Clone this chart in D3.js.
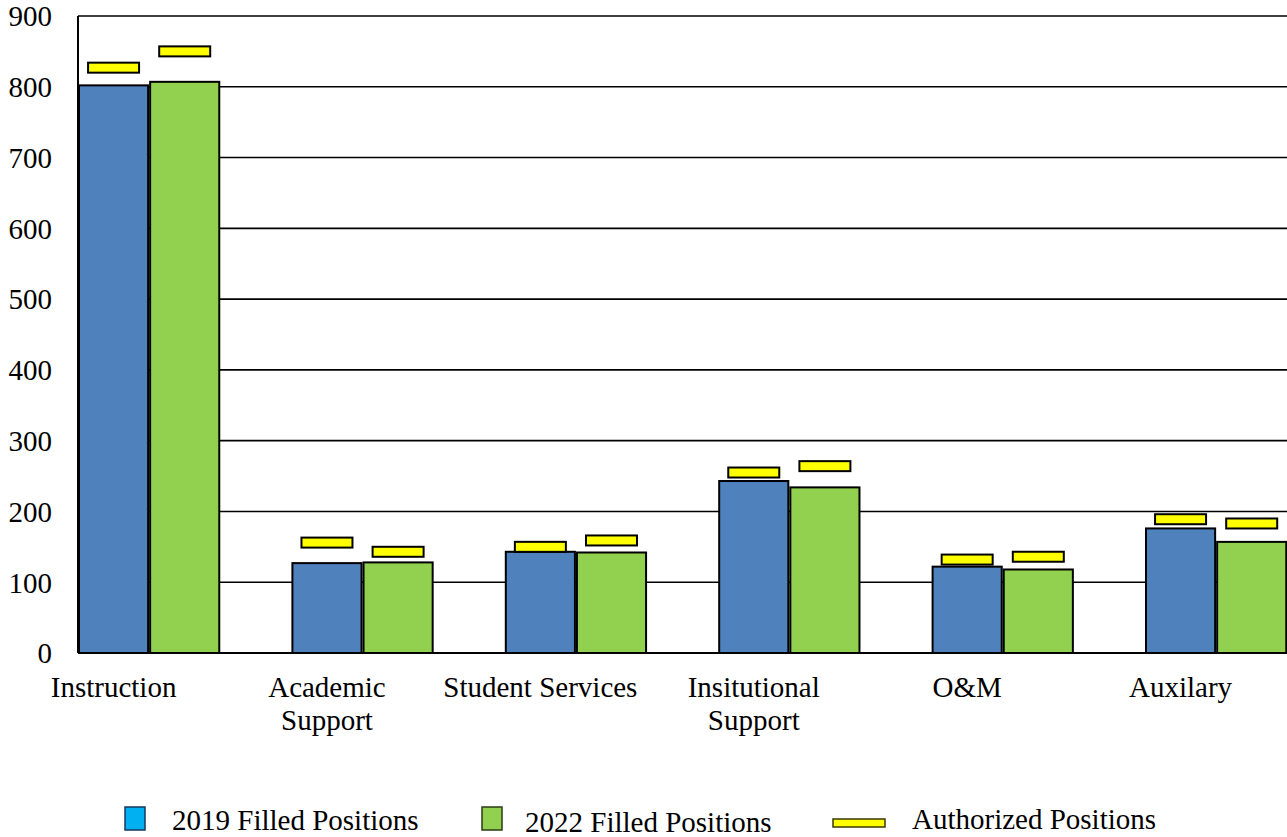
<!DOCTYPE html>
<html>
<head>
<meta charset="utf-8">
<script src="https://cdn.jsdelivr.net/npm/d3@7"></script>
<style>
  html, body { margin: 0; padding: 0; background: #fff; }
  svg { display: block; font-family: "Liberation Serif", "Times New Roman", serif; }
  svg text { font-family: "Liberation Serif", "Times New Roman", serif; }
</style>
</head>
<body>
<svg id="chart" width="1287" height="837"></svg>
<script>
// Staff positions by function
const categories = [
  ["Instruction"],
  ["Academic", "Support"],
  ["Student Services"],
  ["Insitutional", "Support"],
  ["O&M"],
  ["Auxilary"]
];
const filled2019 = [802, 127, 143, 243, 122, 176];
const filled2022 = [807, 128, 142, 234, 118, 157];
const authorized2019 = [827, 156, 150, 255, 132, 189];
const authorized2022 = [850, 143, 159, 264, 136, 183];
const yTicks = [0, 100, 200, 300, 400, 500, 600, 700, 800, 900];

const svg = d3.select("#chart");
const plotLeft = 78, plotTop = 16, plotBottom = 653, groupWidth = 213.4;

const catKeys = categories.map(c => c.join(" "));
const x0 = d3.scaleBand().domain(catKeys)
  .range([plotLeft, plotLeft + groupWidth * catKeys.length]).padding(0);
const slot = x0.bandwidth() / 3;
const x1 = d3.scaleBand().domain(["2019", "2022"]).range([0, slot * 2]).padding(0);
const y = d3.scaleLinear().domain([0, 900]).range([plotBottom, plotTop]);

// Gridlines (incl. top border)
svg.append("g").selectAll("line").data(yTicks.filter(t => t > 0)).join("line")
  .attr("x1", plotLeft).attr("x2", 1287)
  .attr("y1", d => y(d)).attr("y2", d => y(d))
  .attr("stroke", "#000").attr("stroke-width", 1.6);

// Y axis labels
const yAxis = d3.axisLeft(y).tickValues(yTicks).tickSize(0).tickPadding(26);
const yg = svg.append("g").attr("transform", `translate(${plotLeft},0)`).call(yAxis)
  .attr("font-family", null).attr("font-size", null);
yg.select(".domain").remove();
yg.selectAll("text").attr("font-size", 29).attr("fill", "#000")
  .style("font-family", "'Liberation Serif', serif").attr("dy", "0.34em");

// Bars
const rows = catKeys.map((k, i) => ({
  key: k,
  vals: [
    { s: "2019", v: filled2019[i], a: authorized2019[i], fill: "#4F81BD" },
    { s: "2022", v: filled2022[i], a: authorized2022[i], fill: "#92D050" }
  ]
}));

const groups = svg.append("g").selectAll("g").data(rows).join("g")
  .attr("transform", d => `translate(${x0(d.key)},0)`);

groups.selectAll("rect.bar").data(d => d.vals).join("rect")
  .attr("class", "bar")
  .attr("x", d => x1(d.s) + 1)
  .attr("width", x1.bandwidth() - 2)
  .attr("y", d => y(d.v))
  .attr("height", d => plotBottom - y(d.v))
  .attr("fill", d => d.fill)
  .attr("stroke", "#000").attr("stroke-width", 2);

// Authorized markers
const mW = 51, mH = 10;
groups.selectAll("rect.auth").data(d => d.vals).join("rect")
  .attr("class", "auth")
  .attr("x", d => x1(d.s) + x1.bandwidth() / 2 - mW / 2)
  .attr("y", d => y(d.a) - mH / 2)
  .attr("width", mW).attr("height", mH)
  .attr("fill", "#FFFF00")
  .attr("stroke", "#000").attr("stroke-width", 2);

// Axis lines
svg.append("line").attr("x1", plotLeft).attr("x2", plotLeft).attr("y1", plotTop).attr("y2", plotBottom)
  .attr("stroke", "#000").attr("stroke-width", 2);
svg.append("line").attr("x1", plotLeft).attr("x2", 1287).attr("y1", plotBottom).attr("y2", plotBottom)
  .attr("stroke", "#000").attr("stroke-width", 2);

// Category labels
const labels = svg.append("g").selectAll("text").data(categories).join("text")
  .attr("x", (d, i) => x0(catKeys[i]) + x1("2019") + x1.bandwidth() / 2)
  .attr("y", 697)
  .attr("text-anchor", "middle")
  .attr("font-size", 29).attr("fill", "#000");
labels.selectAll("tspan").data(d => d).join("tspan")
  .attr("x", function () { return this.parentNode.getAttribute("x"); })
  .attr("dy", (d, i) => i === 0 ? 0 : 33)
  .text(d => d);

// Legend
const legendItems = [
  { label: "2019 Filled Positions", kind: "box", fill: "#00B0F0", stroke: "#17375E", sx: 125, tx: 172, ty: 830 },
  { label: "2022 Filled Positions", kind: "box", fill: "#92D050", stroke: "#2B3A14", sx: 482, tx: 525, ty: 832 },
  { label: "Authorized Positions", kind: "dash", fill: "#FFFF00", stroke: "#3A3A00", sx: 833, tx: 912, ty: 829 }
];
const lg = svg.append("g").selectAll("g").data(legendItems).join("g");
lg.append("rect")
  .attr("x", d => d.sx)
  .attr("y", d => d.kind === "box" ? 807 : 819)
  .attr("width", d => d.kind === "box" ? 20 : 52)
  .attr("height", d => d.kind === "box" ? 23 : 8)
  .attr("fill", d => d.fill).attr("stroke", d => d.stroke).attr("stroke-width", 1.5);
lg.append("text")
  .attr("x", d => d.tx).attr("y", d => d.ty)
  .attr("font-size", 29).attr("fill", "#000")
  .text(d => d.label);
</script>
</body>
</html>
